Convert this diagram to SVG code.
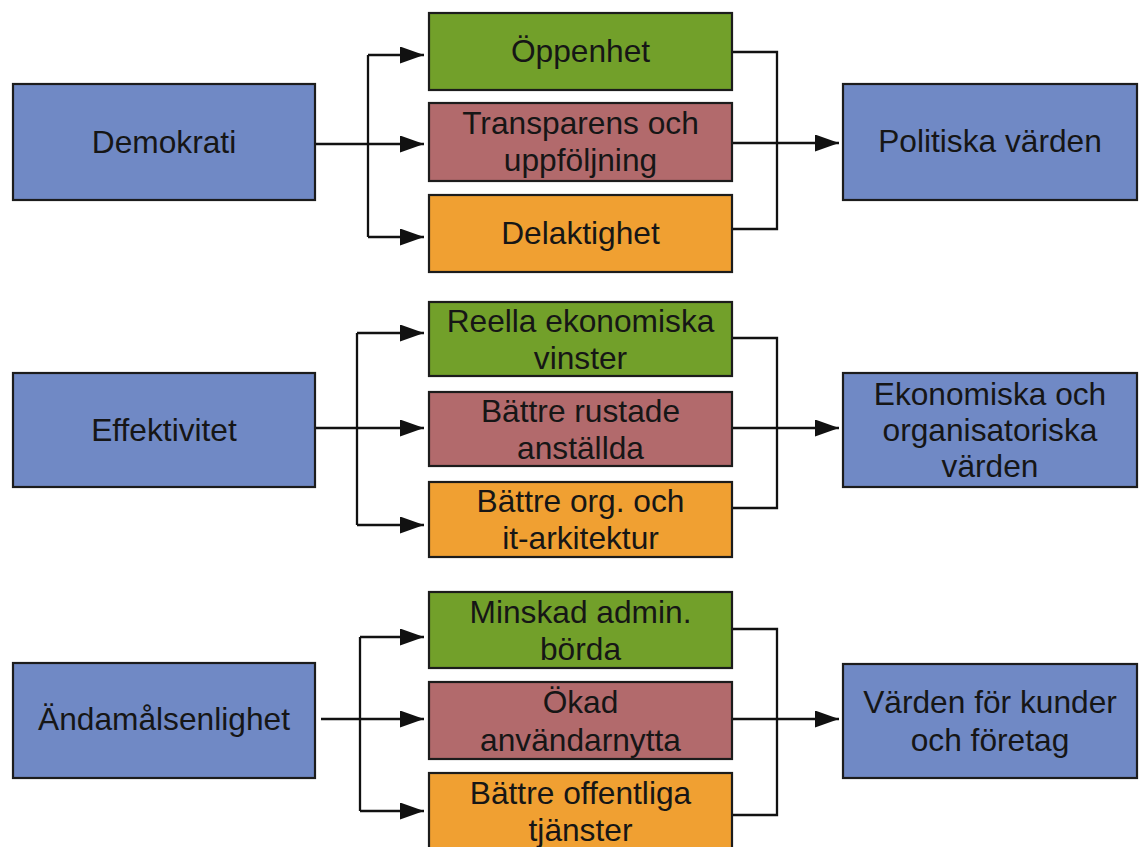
<svg xmlns="http://www.w3.org/2000/svg" width="1139" height="847" viewBox="0 0 1139 847">
<style>
.box{stroke:#1c1c1c;stroke-width:2.2}
.blue{fill:#7089c5}
.green{fill:#72a02a}
.red{fill:#b26a6c}
.orange{fill:#f0a032}
text{font-family:"Liberation Sans",Arial,sans-serif;font-size:31.7px;fill:#161616;text-anchor:middle}
.conn{fill:none;stroke:#111;stroke-width:2.3}
</style>
<defs>
<marker id="arr" markerUnits="userSpaceOnUse" markerWidth="26" markerHeight="18" refX="24" refY="8.5" orient="auto">
<path d="M0,0 L24,8.5 L0,17 z" fill="#111"/>
</marker>
</defs>
<rect width="1139" height="847" fill="#ffffff"/>

<g id="connectors">
<!-- row 1 -->
<path class="conn" d="M315,144 H368"/>
<path class="conn" d="M368,55 V237"/>
<path class="conn" d="M368,55 H424" marker-end="url(#arr)"/>
<path class="conn" d="M368,144 H424" marker-end="url(#arr)"/>
<path class="conn" d="M368,237 H424" marker-end="url(#arr)"/>
<path class="conn" d="M732,52 H777 V229 H732"/>
<path class="conn" d="M732,143 H839" marker-end="url(#arr)"/>
<!-- row 2 -->
<path class="conn" d="M315,428 H357"/>
<path class="conn" d="M357,333 V525"/>
<path class="conn" d="M357,333 H424" marker-end="url(#arr)"/>
<path class="conn" d="M357,428 H424" marker-end="url(#arr)"/>
<path class="conn" d="M357,525 H424" marker-end="url(#arr)"/>
<path class="conn" d="M732,338 H777 V508 H732"/>
<path class="conn" d="M732,428 H839" marker-end="url(#arr)"/>
<!-- row 3 -->
<path class="conn" d="M321,719 H360"/>
<path class="conn" d="M360,637 V811"/>
<path class="conn" d="M360,637 H424" marker-end="url(#arr)"/>
<path class="conn" d="M360,719 H424" marker-end="url(#arr)"/>
<path class="conn" d="M360,811 H424" marker-end="url(#arr)"/>
<path class="conn" d="M732,629 H777 V815 H732"/>
<path class="conn" d="M732,719 H839" marker-end="url(#arr)"/>
</g>

<!-- Row 1 -->
<g id="demokrati"><rect class="box blue" x="13" y="84" width="302" height="116"/><text x="164" y="153">Demokrati</text></g>
<g id="oppenhet"><rect class="box green" x="429" y="13" width="303" height="77"/><text x="580.5" y="62">Öppenhet</text></g>
<g id="transparens"><rect class="box red" x="429" y="103" width="303" height="78"/><text x="580.5" y="134">Transparens och</text><text x="580.5" y="171">uppföljning</text></g>
<g id="delaktighet"><rect class="box orange" x="429" y="195" width="303" height="77"/><text x="580.5" y="244">Delaktighet</text></g>
<g id="politiska"><rect class="box blue" x="843" y="84" width="294" height="116"/><text x="990" y="152">Politiska värden</text></g>

<!-- Row 2 -->
<g id="effektivitet"><rect class="box blue" x="13" y="373" width="302" height="114"/><text x="164" y="441">Effektivitet</text></g>
<g id="reella"><rect class="box green" x="429" y="302" width="303" height="74"/><text x="580.5" y="332">Reella ekonomiska</text><text x="580.5" y="369">vinster</text></g>
<g id="battre-rustade"><rect class="box red" x="429" y="392" width="303" height="74"/><text x="580.5" y="422">Bättre rustade</text><text x="580.5" y="459">anställda</text></g>
<g id="battre-org"><rect class="box orange" x="429" y="482" width="303" height="75"/><text x="580.5" y="512">Bättre org. och</text><text x="580.5" y="549">it-arkitektur</text></g>
<g id="ekonomiska"><rect class="box blue" x="843" y="373" width="294" height="114"/><text x="990" y="405">Ekonomiska och</text><text x="990" y="441">organisatoriska</text><text x="990" y="477">värden</text></g>

<!-- Row 3 -->
<g id="andamalsenlighet"><rect class="box blue" x="13" y="663" width="302" height="115"/><text x="164" y="730">Ändamålsenlighet</text></g>
<g id="minskad"><rect class="box green" x="429" y="592" width="303" height="76"/><text x="580.5" y="623">Minskad admin.</text><text x="580.5" y="660">börda</text></g>
<g id="okad"><rect class="box red" x="429" y="682" width="303" height="77"/><text x="580.5" y="713">Ökad</text><text x="580.5" y="751">användarnytta</text></g>
<g id="battre-offentliga"><rect class="box orange" x="429" y="773" width="303" height="78"/><text x="580.5" y="804">Bättre offentliga</text><text x="580.5" y="841">tjänster</text></g>
<g id="varden-kunder"><rect class="box blue" x="843" y="664" width="294" height="114"/><text x="990" y="713">Värden för kunder</text><text x="990" y="751">och företag</text></g>
</svg>
